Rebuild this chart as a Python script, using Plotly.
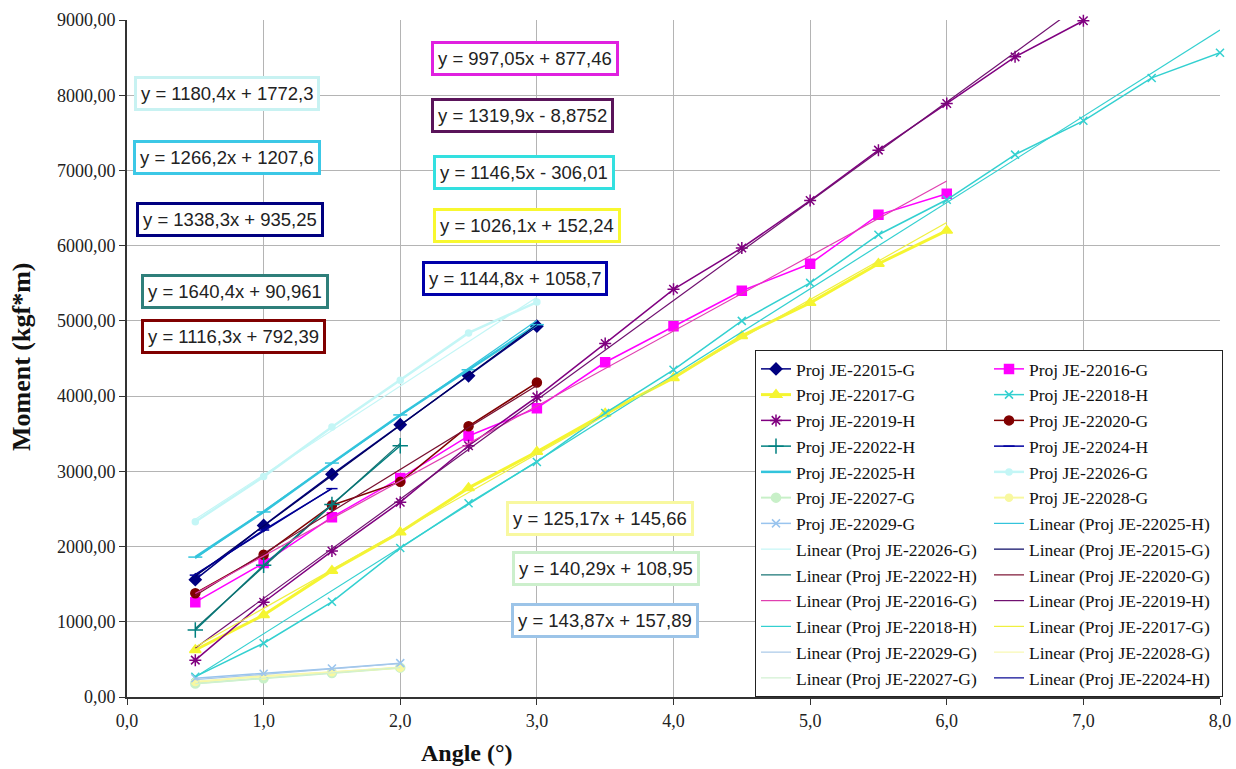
import plotly.graph_objects as go

# ---------------- data ----------------
x_to_1_5 = [0.5, 1.0, 1.5]
x_to_2 = [0.5, 1.0, 1.5, 2.0]
x_to_3 = [0.5, 1.0, 1.5, 2.0, 2.5, 3.0]
x_to_6 = [0.5, 1.0, 1.5, 2.0, 2.5, 3.0, 3.5, 4.0, 4.5, 5.0, 5.5, 6.0]
x_to_7 = [0.5, 1.0, 1.5, 2.0, 2.5, 3.0, 3.5, 4.0, 4.5, 5.0, 5.5, 6.0, 6.5, 7.0]
x_to_8 = [0.5, 1.0, 1.5, 2.0, 2.5, 3.0, 3.5, 4.0, 4.5, 5.0, 5.5, 6.0, 6.5, 7.0, 7.5, 8.0]

y_22015G = [1560, 2280, 2960, 3620, 4270, 4930]
y_22016G = [1260, 1780, 2390, 2910, 3470, 3840, 4450, 4930, 5400, 5760, 6410, 6690]
y_22017G = [625, 1090, 1680, 2190, 2780, 3260, 3770, 4240, 4800, 5240, 5760, 6200]
y_22018H = [270, 715, 1265, 1980, 2575, 3125, 3775, 4350, 5000, 5505, 6145, 6610, 7210, 7660, 8230, 8565]
y_22019H = [490, 1260, 1940, 2590, 3340, 3990, 4700, 5420, 5970, 6600, 7270, 7890, 8510, 8990]
y_22020G = [1380, 1890, 2550, 2860, 3600, 4180]
y_22022H = [890, 1750, 2560, 3340]
y_22024H = [1620, 2220, 2770]
y_22025H = [1860, 2460, 3110, 3750, 4350, 4950]
y_22026G = [2330, 2930, 3590, 4210, 4840, 5250]
y_22027G = [180, 250, 320, 390]
y_22028G = [200, 280, 330, 390]
y_22029G = [250, 310, 380, 450]

# trendline equations (as printed on the chart)
trend_ids = ["22025-H", "22026-G", "22015-G", "22022-H", "22020-G", "22016-G", "22019-H",
             "22018-H", "22017-G", "22029-G", "22028-G", "22027-G", "22024-H"]
trend_slope = [1266.2, 1180.4, 1338.3, 1640.4, 1116.3, 997.05, 1319.9,
               1146.5, 1026.1, 143.87, 125.17, 140.29, 1144.8]
trend_icpt = [1207.6, 1772.3, 935.25, 90.961, 792.39, 877.46, -8.8752,
              -306.01, 152.24, 157.89, 145.66, 108.95, 1058.7]

eq_labels = ["y = 1180,4x + 1772,3", "y = 1266,2x + 1207,6", "y = 1338,3x + 935,25",
             "y = 1640,4x + 90,961", "y = 1116,3x + 792,39", "y = 997,05x + 877,46",
             "y = 1319,9x - 8,8752", "y = 1146,5x - 306,01", "y = 1026,1x + 152,24",
             "y = 1144,8x + 1058,7", "y = 125,17x + 145,66", "y = 140,29x + 108,95",
             "y = 143,87x + 157,89"]

x_ticks = [0, 1, 2, 3, 4, 5, 6, 7, 8]
y_ticks = [0, 1000, 2000, 3000, 4000, 5000, 6000, 7000, 8000, 9000]

# ---------------- styling ----------------
series = {
    "22015-G": dict(x=x_to_3, y=y_22015G, color="#000080", symbol="diamond", size=9, lw=1.5),
    "22016-G": dict(x=x_to_6, y=y_22016G, color="#FF00FF", symbol="square", size=9, lw=1.5),
    "22017-G": dict(x=x_to_6, y=y_22017G, color="#F5F530", symbol="triangle-up", size=10, lw=3),
    "22018-H": dict(x=x_to_8, y=y_22018H, color="#33D0D0", symbol="x-thin-open", size=8, lw=1.5),
    "22019-H": dict(x=x_to_7, y=y_22019H, color="#800080", symbol="asterisk-open", size=10, lw=1.5),
    "22020-G": dict(x=x_to_3, y=y_22020G, color="#800000", symbol="circle", size=9, lw=1.5),
    "22022-H": dict(x=x_to_2, y=y_22022H, color="#008080", symbol="cross-thin-open", size=11, lw=1.5),
    "22024-H": dict(x=x_to_1_5, y=y_22024H, color="#0000A0", symbol="line-ew-open", size=8, lw=1.5),
    "22025-H": dict(x=x_to_3, y=y_22025H, color="#33C4DC", symbol="line-ew-open", size=10, lw=2.5),
    "22026-G": dict(x=x_to_3, y=y_22026G, color="#C4F6F6", symbol="circle", size=6, lw=2.5),
    "22027-G": dict(x=x_to_2, y=y_22027G, color="#C8F0C8", symbol="circle", size=9, lw=2),
    "22028-G": dict(x=x_to_2, y=y_22028G, color="#F8F8A0", symbol="circle", size=7, lw=2),
    "22029-G": dict(x=x_to_2, y=y_22029G, color="#99C4EE", symbol="x-thin-open", size=8, lw=1.5),
}
trend_colors = {
    "22025-H": "#33C4DC", "22026-G": "#C4F6F6", "22015-G": "#000060", "22022-H": "#107070",
    "22020-G": "#7A1030", "22016-G": "#E040B0", "22019-H": "#701070", "22018-H": "#33D0D0",
    "22017-G": "#F0F040", "22029-G": "#A8C8E8", "22028-G": "#F8F8B0", "22027-G": "#D0F0D0",
    "22024-H": "#000090",
}

# legend order (row-wise, two columns)
legend_order = [("S", "22015-G"), ("S", "22016-G"), ("S", "22017-G"), ("S", "22018-H"),
                ("S", "22019-H"), ("S", "22020-G"), ("S", "22022-H"), ("S", "22024-H"),
                ("S", "22025-H"), ("S", "22026-G"), ("S", "22027-G"), ("S", "22028-G"),
                ("S", "22029-G"), ("T", "22025-H"), ("T", "22026-G"), ("T", "22015-G"),
                ("T", "22022-H"), ("T", "22020-G"), ("T", "22016-G"), ("T", "22019-H"),
                ("T", "22018-H"), ("T", "22017-G"), ("T", "22029-G"), ("T", "22028-G"),
                ("T", "22027-G"), ("T", "22024-H")]

fig = go.Figure()
for kind, sid in legend_order:
    s = series[sid]
    if kind == "S":
        fig.add_trace(go.Scatter(
            x=s["x"], y=s["y"], mode="lines+markers", name="Proj JE-" + sid,
            line=dict(color=s["color"], width=s["lw"]),
            marker=dict(symbol=s["symbol"], size=s["size"], color=s["color"],
                        line=dict(color=s["color"], width=1.5)),
            cliponaxis=False))
    else:
        i = trend_ids.index(sid)
        xs = [s["x"][0], s["x"][-1]]
        ys = [trend_slope[i] * xv + trend_icpt[i] for xv in xs]
        fig.add_trace(go.Scatter(
            x=xs, y=ys, mode="lines", name="Linear (Proj JE-" + sid + ")",
            line=dict(color=trend_colors[sid], width=1.2)))

# ---------------- layout helpers ----------------
W, H = 1236, 769
L, R, T, B = 127, 16, 20, 72
PW, PH = W - L - R, H - T - B


def px(xp):
    return (xp - L) / PW


def py(yp):
    return (H - B - yp) / PH


eq_pos = [(227, 94), (227, 157), (230, 219), (235, 291), (233, 336),
          (525, 58), (522, 115), (524, 172), (527, 226), (515, 278),
          (600, 518), (606, 568), (605, 620)]
eq_border = ["#C8F2F2", "#3CC8E6", "#000080", "#2F7F7A", "#800000",
             "#E020E0", "#5A145A", "#33E0E0", "#F8F830", "#0000AA",
             "#F8F8A0", "#CCEFCC", "#9CC4E8"]

annotations = []
for lab, (ax_, ay_), bc in zip(eq_labels, eq_pos, eq_border):
    annotations.append(dict(
        text=lab, x=px(ax_), y=py(ay_), xref="paper", yref="paper",
        xanchor="center", yanchor="middle", showarrow=False,
        font=dict(family="Liberation Sans", size=18.5, color="#222222"),
        bgcolor="white", bordercolor=bc, borderwidth=3, borderpad=4))

annotations.append(dict(
    text="<b>Moment (kgf*m)</b>", x=px(22), y=py(357), xref="paper", yref="paper",
    xanchor="center", yanchor="middle", showarrow=False, textangle=-90,
    font=dict(family="Liberation Serif", size=26, color="#111111")))
annotations.append(dict(
    text="<b>Angle (°)</b>", x=px(467), y=py(753), xref="paper", yref="paper",
    xanchor="center", yanchor="middle", showarrow=False,
    font=dict(family="Liberation Serif", size=24, color="#111111")))

tick_font = dict(family="Liberation Serif", size=18, color="#222222")

fig.update_layout(
    width=W, height=H,
    margin=dict(l=L, r=R, t=T, b=B, autoexpand=False),
    paper_bgcolor="white", plot_bgcolor="white",
    separators=",.",
    showlegend=True,
    legend=dict(
        orientation="h", x=px(1223), y=py(350), xanchor="right", yanchor="top",
        entrywidth=188, entrywidthmode="pixels", maxheight=420,
        bgcolor="white", bordercolor="#222222", borderwidth=1,
        font=dict(family="Liberation Serif", size=17.5, color="#111111"),
        itemwidth=30, tracegroupgap=0),
    xaxis=dict(range=[0, 8], tickvals=x_ticks, tickformat=".1f",
               showgrid=True, gridcolor="#B4B4B4", gridwidth=1,
               showline=True, linecolor="#333333", linewidth=2,
               ticks="outside", ticklen=6, tickcolor="#333333",
               tickfont=tick_font, zeroline=False),
    yaxis=dict(range=[0, 9000], tickvals=y_ticks, tickformat=".2f",
               showgrid=True, gridcolor="#B4B4B4", gridwidth=1,
               showline=True, linecolor="#333333", linewidth=2,
               ticks="outside", ticklen=6, tickcolor="#333333",
               tickfont=tick_font, zeroline=False),
    annotations=annotations,
)

fig.write_html("out.html",
               config={"displayModeBar": False},
               post_script="document.body.style.margin='0';document.body.style.overflow='hidden';")
